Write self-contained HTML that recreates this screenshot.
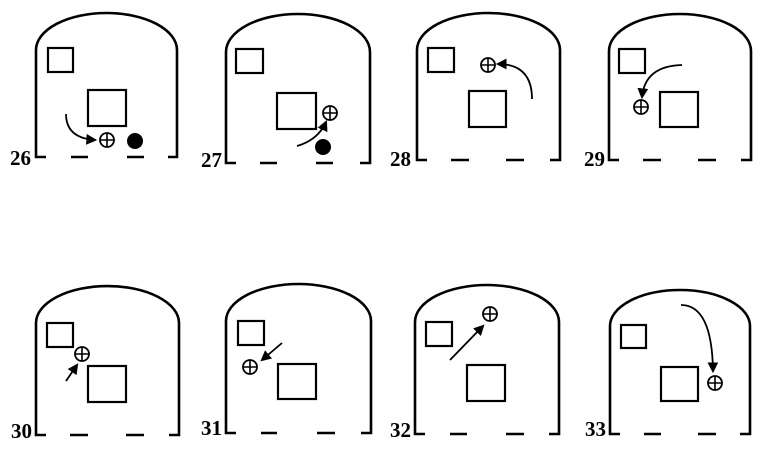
<!DOCTYPE html>
<html><head><meta charset="utf-8"><style>html,body{margin:0;padding:0;background:#fff}svg{display:block}</style></head>
<body>
<svg width="773" height="458" viewBox="0 0 773 458" xmlns="http://www.w3.org/2000/svg">
<defs>
<marker id="ah" viewBox="0 0 10 10" refX="8" refY="5" markerWidth="6" markerHeight="6" orient="auto"><path d="M0,0 L10,5 L0,10 z" fill="#000"/></marker>
<g id="plus"><circle cx="0" cy="0" r="7" fill="#fff" stroke="#000" stroke-width="1.8"/><path d="M-7,0 H7 M0,-7 V7" stroke="#000" stroke-width="1.6"/></g>
</defs>
<g fill="none" stroke="#000" stroke-width="2.6">
<path d="M46,157 H36 V50 A70.5 37 0 0 1 177,50 V157 H168"/>
<path d="M71,157 H88 M127,157 H144"/>
<rect x="48" y="48" width="25" height="24" stroke-width="2.2"/>
<rect x="88" y="90" width="38" height="36" stroke-width="2.2"/>
<path d="M236,163 H226 V52 A72 38 0 0 1 370,52 V163 H360"/>
<path d="M260,163 H277 M316,163 H333"/>
<rect x="236" y="49" width="27" height="24" stroke-width="2.2"/>
<rect x="277" y="93" width="39" height="36" stroke-width="2.2"/>
<path d="M427,160 H417 V50 A71.5 37 0 0 1 560,50 V160 H550"/>
<path d="M451,160 H469 M506,160 H524"/>
<rect x="428" y="48" width="26" height="24" stroke-width="2.2"/>
<rect x="469" y="91" width="37" height="36" stroke-width="2.2"/>
<path d="M619,160 H609 V51 A71 37 0 0 1 751,51 V160 H741"/>
<path d="M643,160 H661 M698,160 H716"/>
<rect x="619" y="49" width="26" height="24" stroke-width="2.2"/>
<rect x="660" y="92" width="38" height="35" stroke-width="2.2"/>
<path d="M46,435 H36 V323 A71.5 37 0 0 1 179,323 V435 H169"/>
<path d="M70,435 H88 M126,435 H144"/>
<rect x="47" y="323" width="26" height="24" stroke-width="2.2"/>
<rect x="88" y="366" width="38" height="36" stroke-width="2.2"/>
<path d="M236,433 H226 V321 A72.5 37 0 0 1 371,321 V433 H361"/>
<path d="M261,433 H277 M317,433 H335"/>
<rect x="238" y="321" width="26" height="24" stroke-width="2.2"/>
<rect x="278" y="364" width="38" height="35" stroke-width="2.2"/>
<path d="M425,434 H415 V322 A72 37 0 0 1 559,322 V434 H549"/>
<path d="M450,434 H467 M506,434 H524"/>
<rect x="426" y="322" width="26" height="24" stroke-width="2.2"/>
<rect x="467" y="365" width="38" height="36" stroke-width="2.2"/>
<path d="M620,434 H610 V326 A70 36 0 0 1 750,326 V434 H740"/>
<path d="M644,434 H661 M698,434 H716"/>
<rect x="621" y="325" width="25" height="23" stroke-width="2.2"/>
<rect x="661" y="367" width="37" height="34" stroke-width="2.2"/>
</g>
<g fill="none" stroke="#000" stroke-width="1.8" marker-end="url(#ah)">
<path d="M66,114 Q66,138 95,140"/>
<path d="M297,146 Q318,140 326,122"/>
<path d="M532,99 Q532,64 498,64"/>
<path d="M682,65 Q645,66 642,97"/>
<path d="M66,381 L77,365"/>
<path d="M282,343 L262,360"/>
<path d="M450,360 L483,326"/>
<path d="M681,305 Q712,305 713,371"/>
</g>
<use href="#plus" x="107" y="140"/>
<circle cx="135" cy="141" r="8" fill="#000"/>
<use href="#plus" x="330" y="113"/>
<circle cx="323" cy="147" r="8" fill="#000"/>
<use href="#plus" x="488" y="65"/>
<use href="#plus" x="641" y="107"/>
<use href="#plus" x="82" y="354"/>
<use href="#plus" x="250" y="367"/>
<use href="#plus" x="490" y="314"/>
<use href="#plus" x="715" y="383"/>
<g font-family="Liberation Serif, serif" font-weight="bold" font-size="21" fill="#000" text-anchor="end">
<text x="31" y="165">26</text>
<text x="222" y="167">27</text>
<text x="411" y="166">28</text>
<text x="605" y="166">29</text>
<text x="32" y="438">30</text>
<text x="222" y="435">31</text>
<text x="411" y="437">32</text>
<text x="606" y="436">33</text>
</g>
</svg>
</body></html>
